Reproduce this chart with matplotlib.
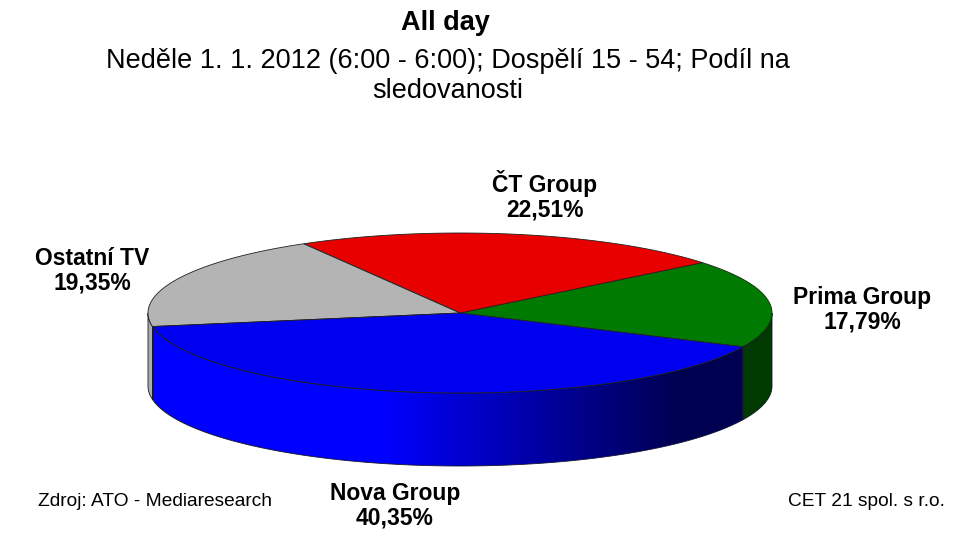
import numpy as np
import matplotlib.pyplot as plt
from matplotlib.patches import Polygon

plt.rcParams['font.family'] = ['Liberation Sans', 'DejaVu Sans']

# data
labels = ['Prima Group', 'ČT Group', 'Ostatní TV', 'Nova Group']
shares = [17.79, 22.51, 19.35, 40.35]
colors = ['#007A00', '#E80000', '#B4B4B4', '#0000F0']
side_colors = [(0.0, 0.72, 0.0), (0.9, 0.0, 0.0), (0.68, 0.68, 0.68), (0.0, 0.0, 1.0)]

# pie geometry (pixel space)
cx, cy = 460, 313
rx, ry = 312, 80
depth = 73
start = -25.0

fig = plt.figure(figsize=(9.59, 5.43), dpi=100)
ax = fig.add_axes([0, 0, 1, 1])
ax.axis('off')


def pt(t, dz=0.0):
    r = np.radians(t)
    return cx + rx * np.cos(r), cy - ry * np.sin(r) + dz


def shade(x):
    # lighting of the side wall: bright on the left, dark on the right
    u = (x - cx) / rx
    return np.interp(u, [-1.0, -0.25, 0.7, 1.0], [1.0, 1.0, 0.32, 0.32])


angles = start + np.concatenate([[0], np.cumsum(shares)]) * 3.6

# side walls (front half only)
for i in range(len(shares)):
    a0, a1 = angles[i], angles[i + 1]
    for lo, hi in [(180, 360), (-180, 0), (540, 720)]:
        s, e = max(a0, lo), min(a1, hi)
        if e <= s:
            continue
        ts = np.linspace(s, e, 200)
        tx, ty = pt(ts)
        verts = list(zip(tx, ty)) + list(zip(tx[::-1], ty[::-1] + depth))
        clip = Polygon(verts, closed=True, facecolor='none', edgecolor='none')
        ax.add_patch(clip)
        x0, x1 = tx.min() - 2, tx.max() + 2
        xs = np.linspace(x0, x1, 400)
        f = shade(xs)
        img = np.clip(np.array(side_colors[i])[None, :] * f[:, None], 0, 1)[None, :, :]
        im = ax.imshow(img, extent=(x0, x1, ty.max() + depth + 2, ty.min() - 2),
                       aspect='auto', interpolation='bilinear')
        im.set_clip_path(clip)
        ax.add_patch(Polygon(verts, closed=True, facecolor='none',
                             edgecolor='#151530', lw=0.6))

# top faces
for i in range(len(shares)):
    ts = np.linspace(angles[i], angles[i + 1], 200)
    xs, ys = pt(ts)
    verts = [(cx, cy)] + list(zip(xs, ys))
    ax.add_patch(Polygon(verts, closed=True, facecolor=colors[i],
                         edgecolor='#202020', lw=0.6))

ax.set_xlim(0, 959)
ax.set_ylim(543, 0)

# labels
lab_pos = [(862, 310), (545, 196), (92, 271), (395, 506)]
for (x, y), name, v in zip(lab_pos, labels, shares):
    ax.text(x, y, '%s\n%s%%' % (name, ('%.2f' % v).replace('.', ',')),
            ha='center', va='center', fontsize=16.5, fontweight='bold',
            linespacing=1.1)

ax.text(445, 23, 'All day', ha='center', va='center', fontsize=19.5, fontweight='bold')
ax.text(448, 61, 'Neděle 1. 1. 2012 (6:00 - 6:00); Dospělí 15 - 54; Podíl na',
        ha='center', va='center', fontsize=19.5)
ax.text(448, 91, 'sledovanosti', ha='center', va='center', fontsize=19.5)
ax.text(38, 502, 'Zdroj: ATO - Mediaresearch', ha='left', va='center', fontsize=13.8)
ax.text(945, 502, 'CET 21 spol. s r.o.', ha='right', va='center', fontsize=13.8)

fig.savefig('out.png', dpi=100)
